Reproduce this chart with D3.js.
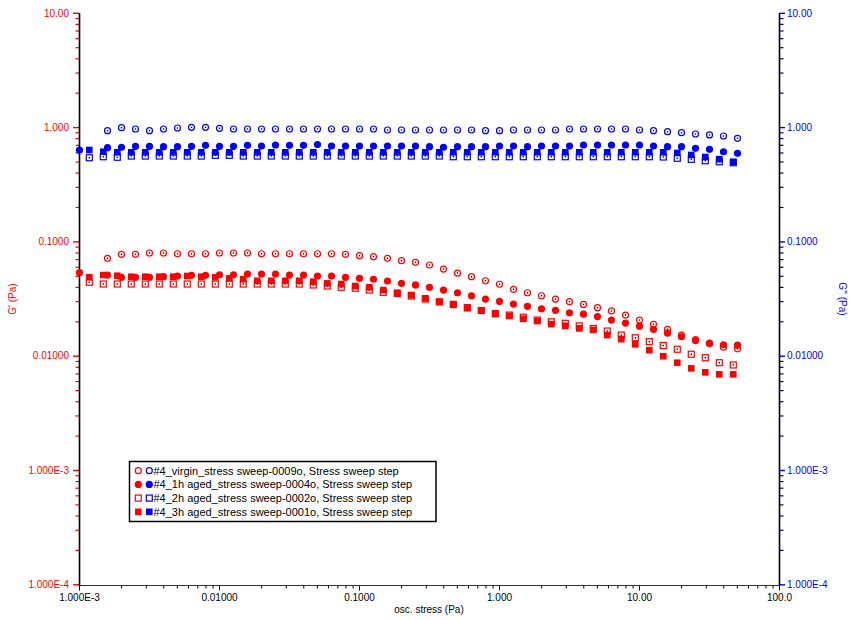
<!DOCTYPE html>
<html><head><meta charset="utf-8">
<script src="https://cdn.jsdelivr.net/npm/d3@7"></script>
<style>
body{margin:0;background:#fff;}
text{font-family:"Liberation Sans",Arial,sans-serif;}
</style></head><body>
<svg id="chart" width="850" height="620"></svg>
<script>
// ---- stress values (Pa) ----
const stressVirgin = [0.001585,0.001995,0.002512,0.003162,0.003981,0.005012,0.006310,0.007943,
  0.01000,0.01259,0.01585,0.01995,0.02512,0.03162,0.03981,0.05012,0.06310,0.07943,
  0.1000,0.1259,0.1585,0.1995,0.2512,0.3162,0.3981,0.5012,0.6310,0.7943,
  1.000,1.259,1.585,1.995,2.512,3.162,3.981,5.012,6.310,7.943,
  10.00,12.59,15.85,19.95,25.12,31.62,39.81,50.12];
const stress1h = [0.001000,0.001585,0.001995,0.002512,0.003162,0.003981,0.005012,0.006310,0.007943,
  0.01000,0.01259,0.01585,0.01995,0.02512,0.03162,0.03981,0.05012,0.06310,0.07943,
  0.1000,0.1259,0.1585,0.1995,0.2512,0.3162,0.3981,0.5012,0.6310,0.7943,
  1.000,1.259,1.585,1.995,2.512,3.162,3.981,5.012,6.310,7.943,
  10.00,12.59,15.85,19.95,25.12,31.62,39.81,50.12];
const stressAged = [0.001175,0.001479,0.001862,0.002344,0.002951,0.003715,0.004677,0.005888,0.007413,0.009333,
  0.01175,0.01479,0.01862,0.02344,0.02951,0.03715,0.04677,0.05888,0.07413,0.09333,
  0.1175,0.1479,0.1862,0.2344,0.2951,0.3715,0.4677,0.5888,0.7413,0.9333,
  1.175,1.479,1.862,2.344,2.951,3.715,4.677,5.888,7.413,9.333,
  11.75,14.79,18.62,23.44,29.51,37.15,46.77];

// ---- G' (Pa) ----
const gpVirgin = [0.0718,0.0779,0.0779,0.0800,0.0800,0.0788,0.0788,0.0788,0.0800,0.0800,
  0.0800,0.0788,0.0788,0.0788,0.0788,0.0788,0.0788,0.0779,0.0757,0.0742,
  0.0718,0.0685,0.0663,0.0628,0.0579,0.0534,0.0496,0.0457,0.0426,0.0385,
  0.0359,0.0338,0.0316,0.0300,0.0284,0.0266,0.0249,0.0229,0.0207,0.0190,
  0.0172,0.0153,0.0140,0.0129,0.0120,0.0116];
const gp1h = [0.0538,0.0513,0.0490,0.0490,0.0490,0.0496,0.0503,0.0510,0.0510,0.0516,
  0.0516,0.0524,0.0524,0.0524,0.0513,0.0513,0.0503,0.0503,0.0490,0.0480,
  0.0471,0.0455,0.0434,0.0420,0.0401,0.0379,0.0359,0.0338,0.0316,0.0302,
  0.0286,0.0273,0.0260,0.0252,0.0240,0.0233,0.0222,0.0207,0.0195,0.0183,
  0.0172,0.0159,0.0148,0.0137,0.0130,0.0126,0.0125];
const gp2h = [0.0443,0.0428,0.0428,0.0428,0.0428,0.0428,0.0428,0.0428,0.0428,0.0428,
  0.0428,0.0428,0.0428,0.0428,0.0428,0.0428,0.0420,0.0411,0.0401,0.0393,
  0.0379,0.0362,0.0354,0.0336,0.0316,0.0298,0.0283,0.0266,0.0251,0.0236,
  0.0229,0.0219,0.0207,0.0200,0.0194,0.0184,0.0175,0.0166,0.0153,0.0145,
  0.0134,0.0124,0.0115,0.0104,0.00970,0.00877,0.00838];
const gp3h = [0.0490,0.0513,0.0506,0.0496,0.0496,0.0496,0.0496,0.0503,0.0496,0.0490,
  0.0480,0.0471,0.0457,0.0457,0.0457,0.0457,0.0449,0.0434,0.0428,0.0411,
  0.0401,0.0379,0.0359,0.0343,0.0321,0.0300,0.0286,0.0264,0.0250,0.0234,
  0.0225,0.0212,0.0203,0.0191,0.0184,0.0175,0.0170,0.0153,0.0141,0.0127,
  0.0113,0.0100,0.00877,0.00783,0.00723,0.00694,0.00694];

// ---- G'' (Pa) ----
const gppVirgin = [0.939,0.998,0.972,0.939,0.972,0.992,1.006,1.006,0.986,0.972,
  0.972,0.972,0.972,0.972,0.972,0.972,0.972,0.972,0.972,0.972,
  0.953,0.953,0.953,0.953,0.953,0.953,0.953,0.939,0.939,0.953,
  0.953,0.953,0.953,0.972,0.972,0.972,0.972,0.972,0.953,0.939,
  0.921,0.902,0.879,0.862,0.844,0.806];
const gpp1h = [0.637,0.667,0.673,0.686,0.686,0.681,0.681,0.686,0.700,0.686,
  0.686,0.700,0.690,0.704,0.700,0.700,0.711,0.690,0.690,0.690,
  0.690,0.690,0.690,0.690,0.681,0.673,0.681,0.681,0.681,0.690,
  0.690,0.681,0.690,0.690,0.690,0.704,0.704,0.704,0.704,0.704,
  0.690,0.681,0.681,0.659,0.646,0.615,0.596];
const gpp2h = [0.545,0.556,0.550,0.564,0.564,0.564,0.564,0.564,0.564,0.572,
  0.572,0.564,0.564,0.564,0.564,0.564,0.564,0.564,0.564,0.564,
  0.564,0.564,0.564,0.564,0.564,0.564,0.556,0.556,0.556,0.556,
  0.556,0.556,0.556,0.556,0.556,0.556,0.556,0.556,0.556,0.556,
  0.556,0.553,0.539,0.528,0.513,0.503,0.493];
const gpp3h = [0.637,0.615,0.608,0.608,0.608,0.608,0.608,0.608,0.608,0.608,
  0.608,0.608,0.608,0.608,0.608,0.608,0.608,0.608,0.608,0.608,
  0.608,0.608,0.608,0.608,0.608,0.608,0.608,0.608,0.608,0.608,
  0.608,0.608,0.608,0.608,0.608,0.608,0.608,0.608,0.608,0.608,
  0.608,0.608,0.600,0.576,0.553,0.530,0.503];

// ---- axes ticks and legend text ----
const xTickValues = [0.001, 0.01, 0.1, 1, 10, 100];
const xTickLabels = ["1.000E-3", "0.01000", "0.1000", "1.000", "10.00", "100.0"];
const yTickValues = [0.0001, 0.001, 0.01, 0.1, 1, 10];
const yTickLabels = ["1.000E-4", "1.000E-3", "0.01000", "0.1000", "1.000", "10.00"];
const legendNames = [
  "#4_virgin_stress sweep-0009o, Stress sweep step",
  "#4_1h aged_stress sweep-0004o, Stress sweep step",
  "#4_2h aged_stress sweep-0002o, Stress sweep step",
  "#4_3h aged_stress sweep-0001o, Stress sweep step"
];
const shapes = ["openCircle", "filledCircle", "openSquare", "filledSquare"];

const RED = "#ff0000", BLUE = "#0000ff";

const svg = d3.select("#chart");
const x = d3.scaleLog().domain([1e-3, 100]).range([79.5, 779.5]);
const y = d3.scaleLog().domain([1e-4, 10]).range([584.8, 13.3]);

function minorTicks(lo, hi) {
  const out = [];
  for (let e = Math.log10(lo); e < Math.log10(hi); e++)
    for (let m = 2; m <= 9; m++) out.push(m * Math.pow(10, e));
  return out;
}
const labelOf = (vals, labs) => d => labs[vals.findIndex(v => Math.abs(v / d - 1) < 1e-6)];

// bottom axis
const gx = svg.append("g").attr("transform", "translate(0,585.5)");
gx.call(d3.axisBottom(x).offset(0).tickValues(xTickValues).tickSize(5).tickPadding(3)
  .tickFormat(labelOf(xTickValues, xTickLabels)));
gx.call(g => g.select(".domain").remove());
svg.append("g").attr("transform", "translate(0,585.5)")
  .call(d3.axisBottom(x).offset(0).tickValues(minorTicks(1e-3, 100)).tickSize(3).tickFormat(""))
  .call(g => g.select(".domain").remove());
svg.selectAll(".tick line").attr("stroke", "#000");
gx.selectAll("text").attr("font-size", 10).attr("fill", "#000")
  .attr("font-family", "'Liberation Sans', Arial, sans-serif");
svg.append("line").attr("x1", 79.5).attr("x2", 779.5).attr("y1", 585.5).attr("y2", 585.5)
  .attr("stroke", "#333").attr("stroke-width", 1.2);

// left axis (G')
const gl = svg.append("g").attr("transform", "translate(79,0)");
gl.call(d3.axisLeft(y).offset(0).tickValues(yTickValues).tickSize(6).tickPadding(4)
  .tickFormat(labelOf(yTickValues, yTickLabels)));
gl.call(g => g.select(".domain").remove());
gl.selectAll("line").attr("stroke", RED).attr("stroke-width", 1.4);
gl.selectAll("text").attr("fill", RED).attr("font-size", 10)
  .attr("font-family", "'Liberation Sans', Arial, sans-serif");
svg.append("g").attr("transform", "translate(79,0)")
  .call(d3.axisLeft(y).offset(0).tickValues(minorTicks(1e-4, 10)).tickSize(3.5).tickFormat(""))
  .call(g => g.select(".domain").remove())
  .selectAll("line").attr("stroke", RED).attr("stroke-width", 1.2);

// right axis (G'')
const gr = svg.append("g").attr("transform", "translate(780,0)");
gr.call(d3.axisRight(y).offset(0).tickValues(yTickValues).tickSize(5).tickPadding(2)
  .tickFormat(labelOf(yTickValues, yTickLabels)));
gr.call(g => g.select(".domain").remove());
gr.selectAll("line").attr("stroke", BLUE).attr("stroke-width", 1.4);
gr.selectAll("text").attr("fill", BLUE).attr("font-size", 10)
  .attr("font-family", "'Liberation Sans', Arial, sans-serif");
svg.append("g").attr("transform", "translate(780,0)")
  .call(d3.axisRight(y).offset(0).tickValues(minorTicks(1e-4, 10)).tickSize(3.5).tickFormat(""))
  .call(g => g.select(".domain").remove())
  .selectAll("line").attr("stroke", "#000080").attr("stroke-width", 1.2);

// vertical axis lines
svg.append("line").attr("x1", 79.5).attr("x2", 79.5).attr("y1", 13).attr("y2", 586)
  .attr("stroke", "#000").attr("stroke-width", 1.6);
svg.append("line").attr("x1", 779.5).attr("x2", 779.5).attr("y1", 13).attr("y2", 586)
  .attr("stroke", "#000").attr("stroke-width", 1.6);

// axis titles
svg.append("text").attr("x", 429).attr("y", 613).attr("text-anchor", "middle")
  .attr("font-size", 10).attr("fill", "#000").text("osc. stress (Pa)");
svg.append("text").attr("transform", "translate(16,299) rotate(-90)").attr("text-anchor", "middle")
  .attr("font-size", 10).attr("fill", RED).text("G' (Pa)");
svg.append("text").attr("transform", "translate(839,299) rotate(90)").attr("text-anchor", "middle")
  .attr("font-size", 10).attr("fill", BLUE).text("G'' (Pa)");

// marker drawing
function marker(g, shape, color, cx, cy, withDot) {
  if (shape === "openCircle") {
    g.append("circle").attr("cx", cx).attr("cy", cy).attr("r", 3.0)
      .attr("fill", "#fff").attr("stroke", color).attr("stroke-width", 1.2);
  } else if (shape === "filledCircle") {
    g.append("circle").attr("cx", cx).attr("cy", cy).attr("r", 3.6).attr("fill", color);
  } else if (shape === "openSquare") {
    g.append("rect").attr("x", cx - 3).attr("y", cy - 3).attr("width", 6).attr("height", 6)
      .attr("fill", "#fff").attr("stroke", color).attr("stroke-width", 1.2);
  } else {
    g.append("rect").attr("x", cx - 3.3).attr("y", cy - 3.3).attr("width", 6.6).attr("height", 6.6)
      .attr("fill", color);
  }
  if (withDot && shape.startsWith("open")) {
    g.append("rect").attr("x", cx - 0.7).attr("y", cy - 0.7).attr("width", 1.4).attr("height", 1.4)
      .attr("fill", "#111");
  }
}

const series = [
  {xs: stressVirgin, gp: gpVirgin, gpp: gppVirgin, shape: shapes[0]},
  {xs: stress1h,     gp: gp1h,     gpp: gpp1h,     shape: shapes[1]},
  {xs: stressAged,   gp: gp2h,     gpp: gpp2h,     shape: shapes[2]},
  {xs: stressAged,   gp: gp3h,     gpp: gpp3h,     shape: shapes[3]}
];

const plot = svg.append("g");
series.forEach(s => {
  const gG1 = plot.append("g");
  s.xs.forEach((v, i) => marker(gG1, s.shape, RED, x(v), y(s.gp[i]), true));
  const gG2 = plot.append("g");
  s.xs.forEach((v, i) => marker(gG2, s.shape, BLUE, x(v), y(s.gpp[i]), true));
});

// legend
const lg = svg.append("g");
lg.append("rect").attr("x", 129.5).attr("y", 461.5).attr("width", 306.5).attr("height", 60)
  .attr("fill", "#fff").attr("stroke", "#000").attr("stroke-width", 1.5);
legendNames.forEach((name, i) => {
  const cy = 470.7 + i * 13.7;
  marker(lg, shapes[i], RED, 138.3, cy, false);
  marker(lg, shapes[i], BLUE, 149.3, cy, false);
  lg.append("text").attr("x", 153.5).attr("y", cy + 4).attr("font-size", 11)
    .attr("fill", "#000").text(name);
});
</script>
</body></html>
